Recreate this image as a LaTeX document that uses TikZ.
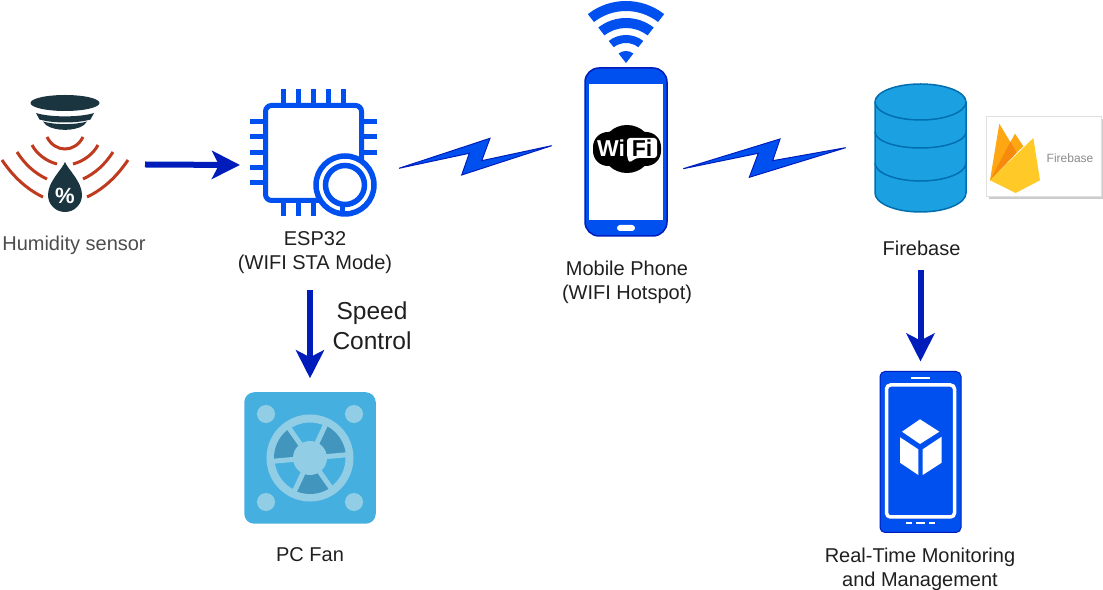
\documentclass[tikz,border=0pt]{standalone}
\usepackage{fontspec}
\setmainfont{Liberation Sans}
\usetikzlibrary{arrows.meta}
\definecolor{cobalt}{HTML}{0050EF}
\definecolor{cobaltdark}{HTML}{001DBC}
\definecolor{sensordark}{HTML}{1B3540}
\definecolor{sensorred}{HTML}{BF3A1E}
\definecolor{dbblue}{HTML}{1BA1E2}
\definecolor{dbedge}{HTML}{006EAF}
\definecolor{fanblue}{HTML}{45B0E0}
\definecolor{fanlight}{HTML}{92CDE6}
\definecolor{fandark}{HTML}{4295BC}
\definecolor{flameyellow}{HTML}{FFCA28}
\definecolor{flameorange}{HTML}{FFA712}
\definecolor{flamedark}{HTML}{F68A0C}

\begin{document}
\begin{tikzpicture}
    [x=1pt, y=1pt,
    icon/.style={inner sep=0pt, outer sep=0pt},
    caption/.style={font=\fontsize{20}{24}\selectfont, align=center, text=black!88},
    flow/.style={line width=6pt, draw=cobaltdark, -{Stealth[length=28pt, width=28pt, inset=7pt]}},
    bolt/.style={fill=cobalt, draw=cobaltdark, line width=1pt, line join=miter},
    wave/.style={draw=sensorred, line width=3pt},
    chipline/.style={draw=cobalt, line width=5pt},
    spoke/.style={draw=fanlight, line width=5pt}]
    \useasboundingbox (0,0) rectangle (1103,589);

        %% Nodes
        \node[icon, minimum width=160pt, minimum height=130pt] (sensor) at (65,424.5) {};
        \node[icon, minimum width=146pt, minimum height=130pt] (esp) at (313,424) {};
        \node[icon, minimum width=82pt, minimum height=168pt, fill=cobalt, draw=cobaltdark, line width=1.5pt, rounded corners=14pt] (phone) at (626,437) {};
        \node[icon, minimum width=91pt, minimum height=128pt] (db) at (920.5,441) {};
        \node[icon, minimum width=115pt, minimum height=80pt] (card) at (1043.5,432) {};
        \node[icon, minimum size=131.5pt, fill=fanblue, rounded corners=10pt] (fan) at (310,131) {};
        \node[icon, minimum width=81pt, minimum height=161pt, fill=cobalt, draw=cobaltdark, line width=1pt, rounded corners=5pt] (tablet) at (920.5,137) {};
        \node[icon] (signal) at (626,526) {};

        %% Labels
        \node[caption, text=black!70, below of = sensor, node distance=80.5pt, xshift=9pt] (sensorL) {Humidity sensor};
        \node[caption, below of = esp, node distance=88pt, xshift=2pt] (espL) {ESP32\\(WIFI STA Mode)};
        \node[caption, below of = phone, node distance=130pt, xshift=1pt] (phoneL) {Mobile Phone\\(WIFI Hotspot)};
        \node[caption, below of = db, node distance=100.5pt, xshift=1pt] (dbL) {Firebase};
        \node[caption, below of = fan, node distance=97pt] (fanL) {PC Fan};
        \node[caption, below of = tablet, node distance=117pt, xshift=-0.5pt] (tabletL) {Real-Time Monitoring\\and Management};
        \node[font=\fontsize{24.5}{30}\selectfont, align=center, text=black!88] (speedL) at (372,263) {Speed\\Control};

        %% Arrows
        \draw[flow] (sensor.east) to (esp.west);
        \draw[flow, shorten <=12.5pt, shorten >=14pt] (fan.north |- espL.south) to (fan.north);
        \draw[flow, shorten <=11pt, shorten >=10pt] (tablet.north |- dbL.south) to (tablet.north);

        %% Wireless links
        \coordinate (link1) at (399,420.7);
        \coordinate (link2) at (683.3,420.3);
        \draw[bolt] (link1) -- ++(91,30) -- ++(-8.3,-22.4) -- ++(70,15) -- ++(-90,-29.3) -- ++(7.6,21.7) -- cycle;
        \draw[bolt] (link2) -- ++(96.7,29.7) -- ++(-7.3,-21.7) -- ++(73,13) -- ++(-96.4,-29.6) -- ++(9,24) -- cycle;

        %% Humidity sensor
        \begin{scope}[shift={(sensor)}]
            \fill[sensordark] (0,61.5) ellipse (34.5 and 8);
            \fill[sensordark] (-29,51.5) .. controls (-15,47) and (15,47) .. (29,51.5) -- (25.5,45) .. controls (12,41) and (-12,41) .. (-25.5,45) -- cycle;
            \fill[sensordark] (-22,43) .. controls (-10,39.5) and (10,39.5) .. (22,43) -- (19,39.5) .. controls (10,33) and (-10,33) .. (-19,39.5) -- cycle;
            \draw[wave] (-18,27.5) .. controls (-10,11.5) and (10,11.5) .. (18,27.5);
            \foreach \s in {1,-1} {
                \begin{scope}[xscale=\s]
                    \draw[wave] (-33,19.5) .. controls (-28,10) and (-18,3) .. (-8,0.5);
                    \draw[wave] (-48,12.5) .. controls (-40,0) and (-30,-9) .. (-18,-14.5);
                    \draw[wave] (-63,4.5) .. controls (-52,-12) and (-38,-25) .. (-22,-32.5);
                \end{scope}
            }
            \fill[sensordark] (0,2.5) .. controls (3,-5) and (17,-17) .. (17,-30.5) arc (0:-180:17) .. controls (-17,-17) and (-3,-5) .. cycle;
            \node[font=\bfseries\fontsize{22}{22}\selectfont, text=white] (percent) at (0,-31) {\%};
        \end{scope}

        %% ESP32 chip
        \begin{scope}[shift={(esp)}]
            \draw[chipline, rounded corners=6pt] (-47.5,59.5) rectangle (48.5,-35.5);
            \foreach \x in {-30,-15,0,15,30}
                \draw[chipline] (\x,62) -- (\x,76);
            \foreach \y in {43,28,12,-3,-18}
                \draw[chipline] (-50,\y) -- (-63,\y);
            \foreach \y in {43,28,12}
                \draw[chipline] (51,\y) -- (64,\y);
            \foreach \x in {-30,-15,0}
                \draw[chipline] (\x,-38) -- (\x,-51);
            \fill[white] (32,-20) circle (31);
            \draw[chipline, line width=5.5pt] (32,-20) circle (29);
            \draw[chipline, line width=5.5pt] (32,-20) circle (19.5);
            \draw[chipline, line width=5pt] (29,-38) -- (29,-46);
        \end{scope}

        %% Phone
        \begin{scope}[shift={(phone)}]
            \fill[white] (-37,68) rectangle (37,-68);
            \fill[white, rounded corners=3pt] (-9,-73) rectangle (9,-79);
            \fill[black, rounded corners=15pt] (-33,20) rectangle (35,-14);
            \fill[black] (1,3) ellipse (25 and 24);
            \fill[white, rounded corners=3pt] (1,14) -- (31,14) -- (31,-6) -- (10,-6) -- (3,-11) -- (1,-4) -- cycle;
            \node[font=\bfseries\fontsize{23}{23}\selectfont, text=white] (wi) at (-15,4) {Wi};
            \node[font=\bfseries\fontsize{23}{23}\selectfont, text=black] (fi) at (16,4) {Fi};
        \end{scope}

        %% Signal
        \begin{scope}[shift={(signal)}]
            \foreach \ri/\ro in {52/62,35/45,20/28}
                \fill[cobalt] (52:\ro) arc (52:128:\ro) -- (128:\ri) arc (128:52:\ri) -- cycle;
            \fill[cobalt] (0,0) -- (52:12) arc (52:128:12) -- cycle;
        \end{scope}

        %% Database
        \begin{scope}[shift={(db)}]
            \draw[fill=dbblue, draw=dbedge, line width=1.5pt] (-45.5,46) -- (-45.5,-45) arc (180:360:45.5 and 19) -- (45.5,46) arc (0:180:45.5 and 18) -- cycle;
            \draw[draw=dbedge, line width=1.5pt] (-45.5,46) arc (180:360:45.5 and 18);
            \draw[draw=dbedge, line width=1.5pt] (-45.5,16) arc (180:360:45.5 and 16);
            \draw[draw=dbedge, line width=1.5pt] (-45.5,-15) arc (180:360:45.5 and 18);
        \end{scope}

        %% Firebase card
        \begin{scope}[shift={(card)}]
            \fill[black!20] (-55,-42.5) rectangle (60,37.5);
            \draw[fill=white, draw=black!12, line width=1pt] (-57.5,40) rectangle (57.5,-40);
            \fill[flameorange] (-53.5,-23.3) -- (-44.2,33.3) -- (-26.8,4.3) -- cycle;
            \fill[flameorange] (-32.8,15.7) -- (-28.5,23.3) -- (-20.2,10.7) -- (-26.8,4.3) -- cycle;
            \fill[flamedark] (-53.5,-23.3) -- (-32.8,15.7) -- (-26.8,4.3) -- cycle;
            \fill[flameyellow] (-53.5,-23.3) -- (-10.2,19) -- (-3.5,-23.3) -- (-27.8,-36) -- cycle;
            \node[font=\fontsize{12}{12}\selectfont, text=black!45] (cardL) at (26.5,-1) {Firebase};
        \end{scope}

        %% Fan
        \begin{scope}[shift={(fan)}]
            \foreach \cx in {-44,44}
                \foreach \cy in {-44,44}
                    \fill[fanlight] (\cx,\cy) circle (9);
            \draw[fanlight, line width=8pt] (0,0) circle (39.5);
            \foreach \a in {0,120,240} {
                \fill[fandark] (\a+8:15) -- (\a+8:36) arc (\a+8:\a+62:36) -- (\a+62:15) -- cycle;
                \draw[spoke] (\a+5:15) -- (\a+5:37);
                \draw[spoke] (\a+65:15) -- (\a+65:37);
            }
            \fill[fanlight] (0,0) circle (17);
        \end{scope}

        %% Tablet
        \begin{scope}[shift={(tablet)}]
            \draw[white, line width=3.5pt, rounded corners=4pt] (-34,67) rectangle (34,-65);
            \draw[white, line width=1.5pt] (-9.5,74) -- (9.5,74);
            \draw[white, line width=2pt] (-14.5,-71) -- (-8.5,-71);
            \draw[white, line width=2pt] (-4.5,-71) -- (4.5,-71);
            \draw[white, line width=2pt] (8.5,-71) -- (14.5,-71);
            \fill[white] (-0.5,32.7) -- (18.8,20.3) -- (-0.5,8) -- (-18.5,20.3) -- cycle;
            \fill[white] (-20.5,14.7) -- (-2.2,2.7) -- (-2.2,-23) -- (-20.5,-10.7) -- cycle;
            \fill[white] (21.2,15.3) -- (2.2,2.7) -- (2.2,-23) -- (21.2,-10.7) -- cycle;
        \end{scope}
    \end{tikzpicture}
\end{document}
